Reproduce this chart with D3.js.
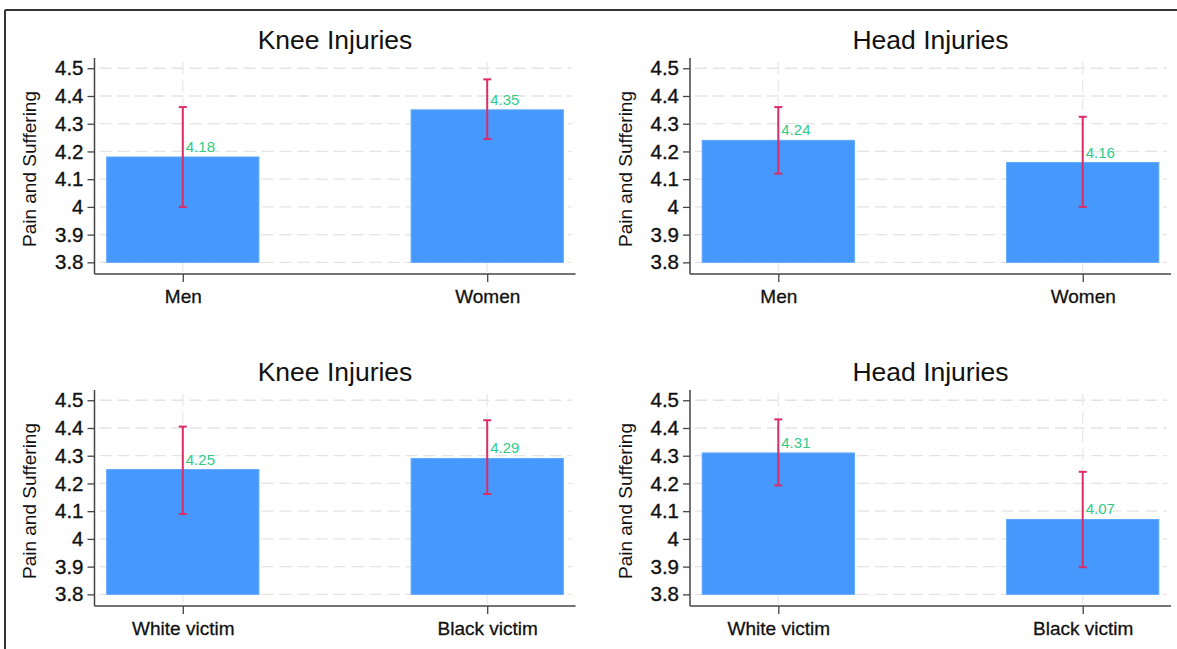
<!DOCTYPE html>
<html>
<head>
<meta charset="utf-8" />
<script src="https://d3js.org/d3.v7.min.js"></script>
<style>
  body { margin: 0; background: #fff; }
  text { font-family: "Liberation Sans", Arial, sans-serif; }
</style>
</head>
<body>
<svg id="chart" width="1177" height="649"></svg>
<script>
// ---- data ----
var titles = ["Knee Injuries", "Head Injuries", "Knee Injuries", "Head Injuries"];
var genderCats = ["Men", "Women"];
var raceCats = ["White victim", "Black victim"];

var kneeGender = [4.18, 4.35];
var kneeGenderLo = [4.00, 4.245];
var kneeGenderHi = [4.36, 4.46];

var headGender = [4.24, 4.16];
var headGenderLo = [4.12, 4.00];
var headGenderHi = [4.36, 4.325];

var kneeRace = [4.25, 4.29];
var kneeRaceLo = [4.09, 4.162];
var kneeRaceHi = [4.405, 4.428];

var headRace = [4.31, 4.07];
var headRaceLo = [4.193, 3.898];
var headRaceHi = [4.431, 4.242];

var yTicks = [3.8, 3.9, 4.0, 4.1, 4.2, 4.3, 4.4, 4.5];
var yLabel = "Pain and Suffering";

var panels = [
  {title: titles[0], cats: genderCats, mean: kneeGender, lo: kneeGenderLo, hi: kneeGenderHi, col: 0, row: 0},
  {title: titles[1], cats: genderCats, mean: headGender, lo: headGenderLo, hi: headGenderHi, col: 1, row: 0},
  {title: titles[2], cats: raceCats, mean: kneeRace, lo: kneeRaceLo, hi: kneeRaceHi, col: 0, row: 1},
  {title: titles[3], cats: raceCats, mean: headRace, lo: headRaceLo, hi: headRaceHi, col: 1, row: 1}
];

var svg = d3.select("#chart");

// frame (top and left edge only)
svg.append("line").attr("x1", 5).attr("x2", 1177).attr("y1", 10).attr("y2", 10)
  .attr("stroke", "#333").attr("stroke-width", 2);
svg.append("line").attr("x1", 5).attr("x2", 5).attr("y1", 10).attr("y2", 649)
  .attr("stroke", "#333").attr("stroke-width", 2);

var colX = [94.5, 690];   // y-axis position of each column
var rowY = [58, 390];     // top of plot area in each row
var plotW = 481, plotH = 216;

var barColor = "#4698fc", errColor = "#dc2c68", valColor = "#2fcb8a";
var fmt = d3.format(".2f");

panels.forEach(function (p) {
  var g = svg.append("g")
    .attr("transform", "translate(" + colX[p.col] + "," + rowY[p.row] + ")");

  var x = d3.scalePoint().domain(p.cats).range([0, plotW]).padding(0.29);
  var y = d3.scaleLinear().domain([3.758, 4.537]).range([plotH, 0]);
  var bw = x.step() * 0.5;

  // grid
  g.append("g").selectAll("line").data(yTicks).enter().append("line")
    .attr("x1", 5).attr("x2", plotW - 4)
    .attr("y1", function (d) { return y(d); }).attr("y2", function (d) { return y(d); })
    .attr("stroke", "#e4e4e4").attr("stroke-width", 1.3).attr("stroke-dasharray", "12,6");
  g.append("g").selectAll("line").data(p.cats).enter().append("line")
    .attr("x1", function (d) { return x(d); }).attr("x2", function (d) { return x(d); })
    .attr("y1", 4).attr("y2", plotH - 2)
    .attr("stroke", "#e8e8e8").attr("stroke-width", 1.3).attr("stroke-dasharray", "12,6");

  var rows = p.cats.map(function (c, i) { return {cat: c, mean: p.mean[i], lo: p.lo[i], hi: p.hi[i]}; });

  // bars
  g.selectAll("rect.bar").data(rows).enter().append("rect")
    .attr("class", "bar")
    .attr("x", function (d) { return x(d.cat) - bw / 2; })
    .attr("width", bw)
    .attr("y", function (d) { return y(d.mean); })
    .attr("height", function (d) { return y(3.8) - y(d.mean); })
    .attr("fill", barColor)
    .attr("stroke", "#5fa8ff").attr("stroke-width", 1);

  // error bars
  var eb = g.selectAll("g.err").data(rows).enter().append("g").attr("class", "err");
  eb.append("line")
    .attr("x1", function (d) { return x(d.cat); }).attr("x2", function (d) { return x(d.cat); })
    .attr("y1", function (d) { return y(d.lo); }).attr("y2", function (d) { return y(d.hi); })
    .attr("stroke", errColor).attr("stroke-width", 2);
  ["lo", "hi"].forEach(function (k) {
    eb.append("line")
      .attr("x1", function (d) { return x(d.cat) - 4; }).attr("x2", function (d) { return x(d.cat) + 4; })
      .attr("y1", function (d) { return y(d[k]); }).attr("y2", function (d) { return y(d[k]); })
      .attr("stroke", errColor).attr("stroke-width", 2);
  });

  // value labels
  g.selectAll("text.val").data(rows).enter().append("text")
    .attr("class", "val")
    .attr("x", function (d) { return x(d.cat) + 3; })
    .attr("y", function (d) { return y(d.mean) - 5; })
    .attr("fill", valColor).attr("font-size", 15)
    .text(function (d) { return fmt(d.mean); });

  // axes
  var ya = g.append("g")
    .call(d3.axisLeft(y).tickValues(yTicks).tickSize(7).tickPadding(4)
      .tickFormat(function (d) { return d3.format(".1~f")(d); }));
  ya.select(".domain").attr("d", "M0,0V" + plotH).attr("stroke", "#444").attr("stroke-width", 1.5);
  ya.selectAll(".tick line").attr("stroke", "#444").attr("stroke-width", 1.3);
  ya.selectAll(".tick text").attr("font-size", 20.5).attr("fill", "#111")
    .attr("stroke", "#111").attr("stroke-width", 0.35)
    .style("font-family", "'Liberation Sans', Arial, sans-serif");

  var xa = g.append("g").attr("transform", "translate(0," + plotH + ")")
    .call(d3.axisBottom(x).tickSize(8).tickPadding(8));
  xa.select(".domain").attr("d", "M0,0H" + plotW).attr("stroke", "#444").attr("stroke-width", 1.5);
  xa.selectAll(".tick line").attr("stroke", "#444").attr("stroke-width", 1.3);
  xa.selectAll(".tick text").attr("font-size", 19).attr("fill", "#111")
    .attr("stroke", "#111").attr("stroke-width", 0.3)
    .style("font-family", "'Liberation Sans', Arial, sans-serif");

  // title
  g.append("text")
    .attr("x", plotW / 2).attr("y", -9)
    .attr("text-anchor", "middle")
    .attr("font-size", 26.5).attr("fill", "#111")
    .text(p.title);

  // y label
  g.append("text")
    .attr("transform", "translate(-65," + (plotH / 2 + 3) + ") rotate(-90)")
    .attr("text-anchor", "middle")
    .attr("dy", "0.35em")
    .attr("font-size", 19).attr("fill", "#111")
    .text(yLabel);
});
</script>
</body>
</html>
